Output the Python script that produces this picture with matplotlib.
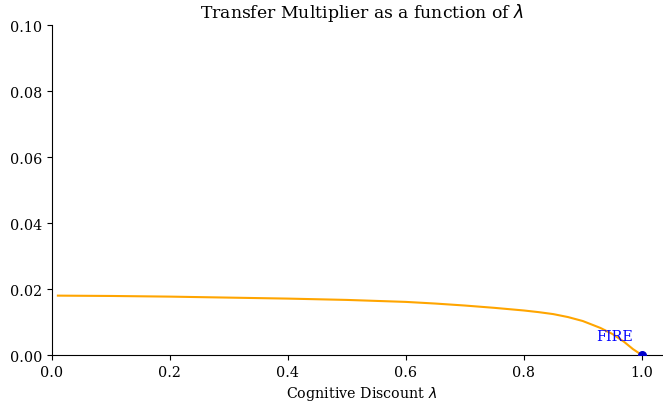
import matplotlib
matplotlib.use('Agg')
import matplotlib.pyplot as plt
import numpy as np

# cognitive discount lambda and transfer multiplier
lam = [0.01, 0.1, 0.2, 0.3, 0.4, 0.5, 0.6, 0.65, 0.7, 0.75, 0.8, 0.825, 0.85, 0.875,
       0.9, 0.93, 0.95, 0.97, 0.985, 1.0]
multiplier = [0.0180, 0.0179, 0.0177, 0.0174, 0.0171, 0.0167, 0.0161, 0.0156, 0.0150,
              0.0143, 0.0135, 0.0130, 0.0124, 0.0115, 0.0103, 0.0082, 0.0064, 0.0040,
              0.0018, 0.0]
fire_lam = [1.0]
fire_val = [0.0]

plt.rcParams['font.family'] = 'DejaVu Serif'
plt.rcParams['font.size'] = 10.3

fig = plt.figure(figsize=(6.63, 4.02), dpi=100)
# the original axes run a little past the right edge of the saved image
ax = fig.add_axes([0.0784, 0.1144, 0.9336, 0.8206])

ax.plot(lam, multiplier, color='orange', linewidth=1.5)
ax.scatter(fire_lam, fire_val, color='mediumblue', s=30, zorder=3)
ax.text(0.922, 0.0045, 'FIRE', color='blue', fontsize=10.3)

ax.set_xlim(left=0)
ax.set_ylim(0, 0.1)
ax.set_title(r'Transfer Multiplier as a function of $\lambda$', fontsize=12.4)
ax.set_xlabel(r'Cognitive Discount $\lambda$')
ax.spines['top'].set_visible(False)
ax.spines['right'].set_visible(False)

fig.savefig('out.png', dpi=100)
